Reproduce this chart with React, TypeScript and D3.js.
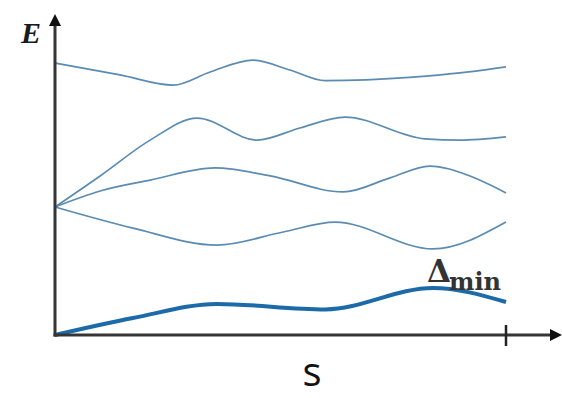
import React from "react";
import * as d3 from "d3";

// energy levels E(s) as [s, E]
const level1: [number, number][] = [
  [0, 8.5], [0.144, 8.13], [0.262, 7.81], [0.344, 8.22], [0.439, 8.59],
  [0.521, 8.28], [0.599, 7.95], [0.794, 8.06], [0.898, 8.19], [1, 8.38],
];
const level2: [number, number][] = [
  [0, 4.0], [0.1, 4.97], [0.211, 6.09], [0.315, 6.78], [0.448, 6.09],
  [0.543, 6.47], [0.643, 6.81], [0.82, 6.13], [0.898, 6.09], [1, 6.19],
];
const level3: [number, number][] = [
  [0, 4.0], [0.1, 4.5], [0.211, 4.84], [0.355, 5.22], [0.477, 4.97],
  [0.639, 4.47], [0.743, 4.91], [0.831, 5.28], [0.92, 4.97], [1, 4.44],
];
const level4: [number, number][] = [
  [0, 4.0], [0.173, 3.34], [0.359, 2.81], [0.506, 3.22], [0.621, 3.53],
  [0.838, 2.69], [1, 3.53],
];
const groundGap: [number, number][] = [
  [0, 0], [0.173, 0.53], [0.359, 0.97], [0.599, 0.8], [0.838, 1.47], [1, 1.03],
];
const thinLevels = [level1, level2, level3, level4];

const W = 562;
const H = 398;
const axisColor = "#353535";

export default function App() {
  const x = d3.scaleLinear().domain([0, 1]).range([55, 506]);
  const y = d3.scaleLinear().domain([0, 10]).range([335, 15]);

  const line = d3
    .line<[number, number]>()
    .x((d) => x(d[0]))
    .y((d) => y(d[1]))
    .curve(d3.curveMonotoneX);

  const x0 = x(0);
  const y0 = y(0);

  return (
    <svg
      width={W}
      height={H}
      style={{ position: "absolute", left: 0, top: 0, background: "#fff" }}
    >
      {thinLevels.map((d, i) => (
        <path
          key={i}
          d={line(d) || ""}
          fill="none"
          stroke="#5a8cb3"
          strokeWidth={1.7}
        />
      ))}
      <path d={line(groundGap) || ""} fill="none" stroke="#1c6aa8" strokeWidth={4} />

      {/* axes */}
      <line x1={x0} y1={y0 + 1.5} x2={x0} y2={24} stroke={axisColor} strokeWidth={3} />
      <path d={`M${x0 - 6},${26} L${x0},${14} L${x0 + 6},${26} Z`} fill="#111" />
      <line x1={x0 - 1.5} y1={y0} x2={552} y2={y0} stroke={axisColor} strokeWidth={3} />
      <path d={`M${550},${y0 - 6} L${562},${y0} L${550},${y0 + 6} Z`} fill="#111" />
      <line x1={x(1)} y1={y0 - 10} x2={x(1)} y2={y0 + 11} stroke="#222" strokeWidth={2.5} />

      <text
        x={21}
        y={43}
        fontFamily="'Liberation Serif', serif"
        fontStyle="italic"
        fontWeight="bold"
        fontSize={30}
        fill="#1a1a1a"
      >
        E
      </text>
      <text
        x={312}
        y={386}
        textAnchor="middle"
        fontFamily="'Open Sans', sans-serif"
        fontSize={40}
        fill="#111"
      >
        s
      </text>
      <text fontFamily="'DejaVu Serif', serif" fill="#333">
        <tspan x={427} y={282} fontSize={31} fontWeight="bold">Δ</tspan>
        <tspan x={449} y={290} fontSize={24} fontWeight="bold">min</tspan>
      </text>
    </svg>
  );
}
